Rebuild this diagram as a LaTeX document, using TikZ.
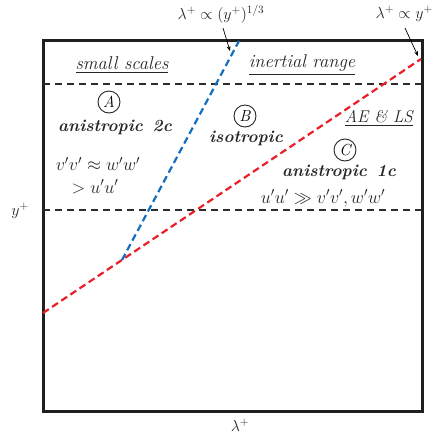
\RequirePackage{fix-cm}
\documentclass[tikz,border=0pt]{standalone}
\usepackage{amsmath,amssymb}
\usetikzlibrary{arrows.meta}
\definecolor{lineblue}{RGB}{20,110,190}
\definecolor{linered}{RGB}{235,30,40}
\definecolor{darkgray}{RGB}{45,45,45}
\tikzset{
  frame/.style={line width=3pt, draw=black!88},
  sepline/.style={line width=1.4pt, draw=darkgray, dash pattern=on 7pt off 5pt},
  bluedash/.style={line width=2.2pt, draw=lineblue, dash pattern=on 7pt off 4pt},
  reddash/.style={line width=2.2pt, draw=linered, dash pattern=on 7pt off 4pt},
  pointer/.style={-{Stealth[length=5pt,width=4pt]}, line width=0.7pt},
  toplbl/.style={font=\fontsize{16}{18}\selectfont, text=black!85, inner sep=1pt},
  lbl/.style={font=\fontsize{18.5}{20}\selectfont\itshape, text=black!85, inner sep=1pt},
  eqn/.style={font=\fontsize{18}{20}\selectfont, text=black!85, inner sep=0pt},
  region/.style={font=\fontsize{17}{19}\selectfont\bfseries\itshape, text=black!85, inner sep=1pt},
  circ/.style={circle, draw=black!85, line width=0.9pt, minimum size=22pt, inner sep=0pt, font=\fontsize{16}{18}\selectfont\itshape},
}
\begin{document}
\begin{tikzpicture}[x=1pt,y=-1pt]
\useasboundingbox (0,0) rectangle (434,437);
% frame
\draw[frame] (43,40) rectangle (422,411);
% separator lines
\coordinate (s1l) at (43,84); \coordinate (s1r) at (422,84);
\coordinate (s2l) at (43,210); \coordinate (s2r) at (422,210);
\draw[sepline] (s1l) -- (s1r);
\draw[sepline] (s2l) -- (s2r);
% red and blue lines
\coordinate (rstart) at (43,313);
\coordinate (rend) at (421,59);
\coordinate (junc) at (122,260);
\coordinate (btop) at (239,41);
\draw[reddash] (rstart) -- (rend);
\draw[bluedash] (junc) -- (btop);
% top labels
\node[toplbl] (l13) at (221,14) {$\lambda^{+}\propto(y^{+})^{1/3}$};
\node[toplbl, anchor=east] (l1) at (434,14) {$\lambda^{+}\propto y^{+}$};
\coordinate (a1) at (230,51);
\coordinate (a2) at (418,56);
\draw[pointer] (223,28) -- (a1);
\draw[pointer] (405,28) -- (a2);
% headers
\node[lbl] (ss) at (122,65) {\underline{small scales}};
\node[lbl] (ir) at (302,65) {\underline{inertial range}};
\node[lbl, font=\fontsize{17}{19}\selectfont\itshape, anchor=east] (ae) at (414,118) {\underline{AE \& LS}};
% region A
\node[circ] (cA) at (109,102) {A};
\node[region] (tA) at (115,127) {anistropic\, 2c};
\node[eqn] (eA1) at (98,164) {$v'v'\approx w'w'$};
\node[eqn] (eA2) at (95,187) {$>u'u'$};
% region B
\node[circ] (cB) at (245,116) {B};
\node[region] (tB) at (246,138) {isotropic};
% region C
\node[circ] (cC) at (345,150) {C};
\node[region] (tC) at (339,172) {anistropic\, 1c};
\node[eqn] (eC) at (323,198) {$u'u'\gg v'v',w'w'$};
% axes
\node[toplbl] (yl) at (20,211) {$y^{+}$};
\node[toplbl] (xl) at (240,425) {$\lambda^{+}$};
\end{tikzpicture}
\end{document}
